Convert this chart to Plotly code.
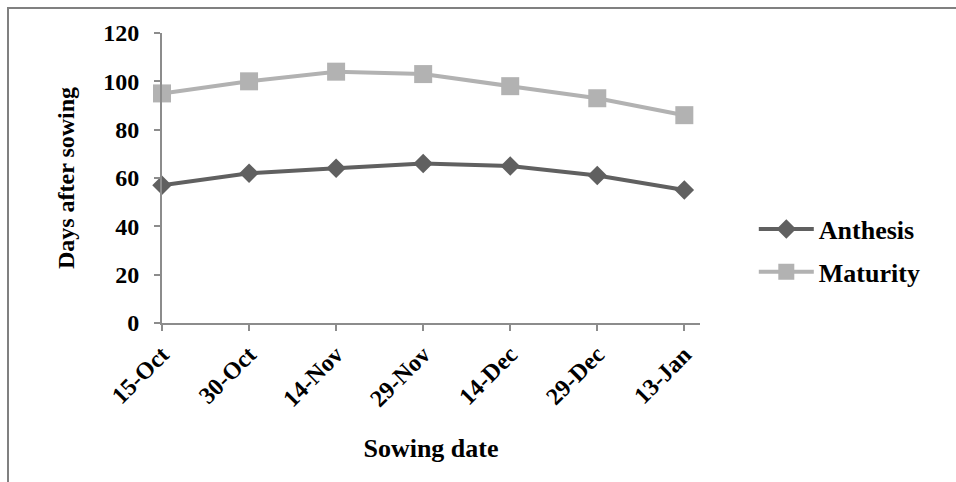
import plotly.graph_objects as go

dates = ["15-Oct", "30-Oct", "14-Nov", "29-Nov", "14-Dec", "29-Dec", "13-Jan"]
anthesis = [57, 62, 64, 66, 65, 61, 55]
maturity = [95, 100, 104, 103, 98, 93, 86]
y_ticks = [0, 20, 40, 60, 80, 100, 120]

FONT = "Liberation Serif"
xs = list(range(len(dates)))

fig = go.Figure()
fig.add_trace(go.Scatter(
    x=xs, y=anthesis, name="Anthesis", mode="lines+markers",
    line=dict(color="#606060", width=4),
    marker=dict(symbol="diamond", size=15, color="#606060"),
    cliponaxis=False, legendgroup="a"))
fig.add_trace(go.Scatter(
    x=xs, y=maturity, name="Maturity", mode="lines+markers",
    line=dict(color="#b2b2b2", width=4),
    marker=dict(symbol="square", size=18, color="#b2b2b2"),
    cliponaxis=False, legendgroup="m"))

fig.update_layout(
    width=956, height=482,
    margin=dict(l=162, r=256, t=33, b=159),
    paper_bgcolor="white", plot_bgcolor="white",
    font=dict(family=FONT, color="black", size=24, weight="bold"),
    showlegend=True,
    legend=dict(x=1.1, y=0.25, xanchor="left", yanchor="middle",
                font=dict(size=26, family=FONT, weight="bold"),
                traceorder="grouped", tracegroupgap=6, itemwidth=55,
                bgcolor="rgba(0,0,0,0)"),
    xaxis=dict(
        range=[0, 6.18], tickmode="array", tickvals=xs, ticktext=dates,
        tickangle=-45, showgrid=False, zeroline=False,
        showline=True, linecolor="#8c8c8c", linewidth=2,
        ticks="outside", ticklen=6, tickcolor="#8c8c8c", tickwidth=2,
        tickfont=dict(size=24, family=FONT, weight="bold"),
        title=dict(text="Sowing date", font=dict(size=26, family=FONT, weight="bold"), standoff=28),
    ),
    yaxis=dict(
        range=[0, 120], tickmode="array", tickvals=y_ticks,
        showgrid=False, zeroline=False,
        showline=True, linecolor="#8c8c8c", linewidth=2,
        ticks="outside", ticklen=6, tickcolor="#8c8c8c", tickwidth=2,
        ticklabelstandoff=10,
        tickfont=dict(size=24, family=FONT, weight="bold"),
        title=dict(text="Days after sowing", font=dict(size=24, family=FONT, weight="bold"), standoff=22),
    ),
    shapes=[dict(type="rect", xref="paper", yref="paper",
                 x0=(8 - 162) / 538, x1=(1000 - 162) / 538,
                 y0=(323 - 520) / 290, y1=(323 - 8) / 290,
                 line=dict(color="#808080", width=2), layer="below")],
)

fig.write_html("out.html")
